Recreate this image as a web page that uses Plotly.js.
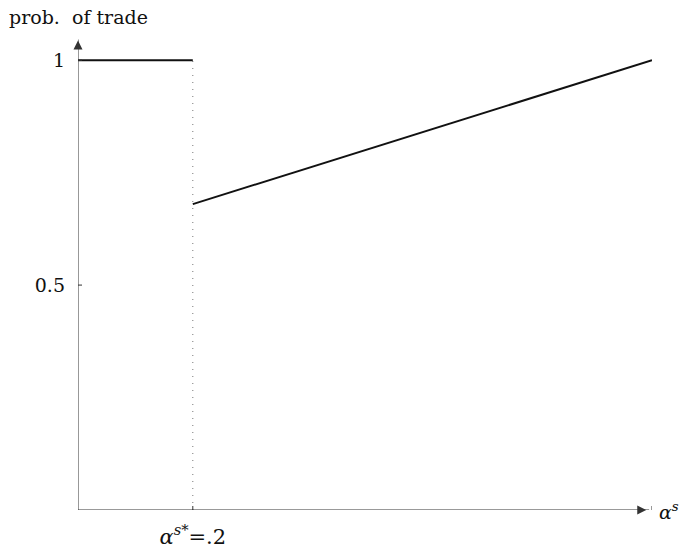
<!DOCTYPE html>
<html>
<head>
<meta charset="utf-8">
<script src="https://cdn.plot.ly/plotly-3.0.1.min.js"></script>
<style>html,body{margin:0;padding:0;background:#fff;}#chart{width:684px;height:548px;}</style>
</head>
<body>
<div id="chart"></div>
<script>
// ---- data ----
const threshold = 0.2;
const seg1X = [0, 0.2];
const seg1Y = [1, 1];
const seg2X = [0.2, 1];
const seg2Y = [0.68, 1];
const yTickVals = [0.5, 1];
const yTickText = ['0.5', '1'];
const xTickVals = [0.2];
const xTickText = ['<i>α</i><sup><i>s</i>*</sup>=.2'];
const xTickMarks = [0.2, 1];
const yTitle = 'prob.  of trade';
const xTitle = '<i>α</i><sup><i>s</i></sup>';

const FONT = 'DejaVu Serif, serif';
const AX = '#333';
const Y_MAX = 1.056;

const traces = [
  {x: [threshold, threshold], y: [0, 1], mode: 'lines', line: {color: '#777', width: 1, dash: '1px,6px'}, hoverinfo: 'skip'},
  {x: seg1X, y: seg1Y, mode: 'lines', line: {color: '#111', width: 2}, hoverinfo: 'skip'},
  {x: seg2X, y: seg2Y, mode: 'lines', line: {color: '#111', width: 2}, hoverinfo: 'skip'},
  // arrow heads
  {x: [0], y: [Y_MAX - 0.012], mode: 'markers', marker: {symbol: 'arrow-up', size: 9, color: AX, line: {width: 0}}, cliponaxis: false, hoverinfo: 'skip'},
  {x: [0.99], y: [0], mode: 'markers', marker: {symbol: 'arrow-right', size: 9, color: AX, line: {width: 0}}, cliponaxis: false, hoverinfo: 'skip'}
];

const shapes = [
  {type: 'line', xref: 'x', yref: 'y', x0: 0, x1: 0, y0: 0, y1: Y_MAX - 0.01, line: {color: AX, width: 1}},
  {type: 'line', xref: 'x', yref: 'y', x0: 0, x1: 0.995, y0: 0, y1: 0, line: {color: AX, width: 1}}
];
xTickMarks.forEach(v => shapes.push({type: 'line', xref: 'x', yref: 'y', x0: v, x1: v, ysizemode: 'pixel', yanchor: 0, y0: -4, y1: 4, line: {color: AX, width: 1}}));
yTickVals.forEach(v => shapes.push({type: 'line', xref: 'x', yref: 'y', y0: v, y1: v, xsizemode: 'pixel', xanchor: 0, x0: -4, x1: 4, line: {color: AX, width: 1}}));

const annotations = [
  {x: 1, y: 0, xref: 'x', yref: 'y', xanchor: 'left', yanchor: 'middle', xshift: 5, yshift: -1, text: xTitle, showarrow: false, font: {family: FONT, size: 19, color: '#111'}},
  {x: -0.1237, y: 1.038, xref: 'paper', yref: 'paper', xanchor: 'left', yanchor: 'middle', text: yTitle, showarrow: false, font: {family: FONT, size: 19, color: '#111'}}
];

const layout = {
  width: 684, height: 548,
  margin: {l: 78, r: 32, t: 35, b: 38, pad: 0},
  paper_bgcolor: '#fff', plot_bgcolor: '#fff',
  showlegend: false,
  font: {family: FONT, size: 19, color: '#111'},
  xaxis: {range: [0, 1], showgrid: false, zeroline: false, showline: false, tickvals: xTickVals, ticktext: xTickText, ticks: '', ticklabelstandoff: 12, tickfont: {family: FONT, size: 21, color: '#111'}, fixedrange: true},
  yaxis: {range: [0, Y_MAX], showgrid: false, zeroline: false, showline: false, tickvals: yTickVals, ticktext: yTickText, ticks: '', ticklabelstandoff: 12, tickfont: {family: FONT, size: 19, color: '#111'}, fixedrange: true},
  shapes: shapes,
  annotations: annotations
};

Plotly.newPlot('chart', traces, layout, {displayModeBar: false, staticPlot: true});
</script>
</body>
</html>
